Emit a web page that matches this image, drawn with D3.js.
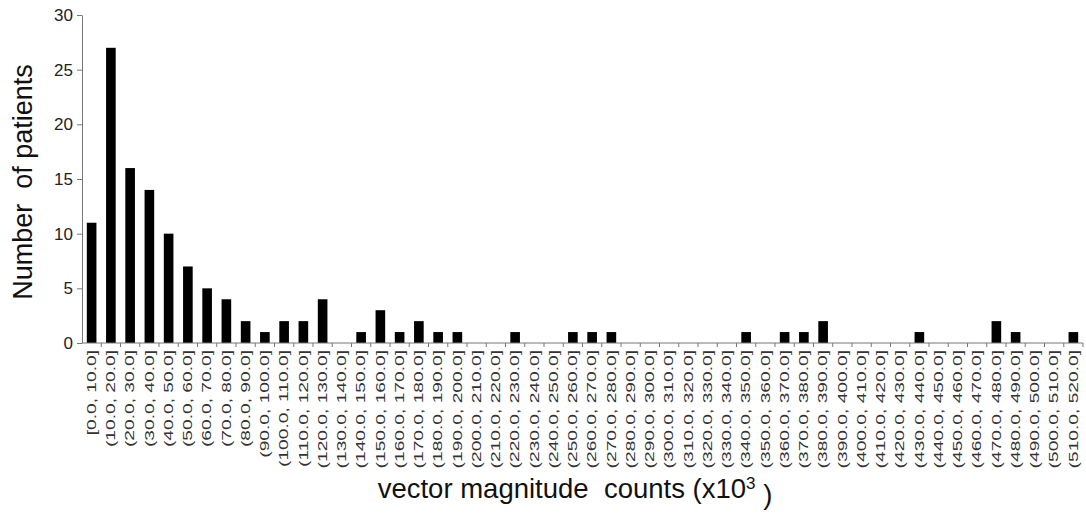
<!DOCTYPE html>
<html>
<head>
<meta charset="utf-8">
<script src="https://cdn.jsdelivr.net/npm/d3@7"></script>
<style>
  body { margin: 0; background: #fff; }
  text { font-family: "Liberation Sans", Arial, sans-serif; }
</style>
</head>
<body>
<div id="chart"></div>
<script>
const width = 1086, height = 514;

// bins of vector magnitude counts (x10^3)
const bins = [
  "[0.0, 10.0]", "(10.0, 20.0]", "(20.0, 30.0]", "(30.0, 40.0]", "(40.0, 50.0]",
  "(50.0, 60.0]", "(60.0, 70.0]", "(70.0, 80.0]", "(80.0, 90.0]", "(90.0, 100.0]",
  "(100.0, 110.0]", "(110.0, 120.0]", "(120.0, 130.0]", "(130.0, 140.0]", "(140.0, 150.0]",
  "(150.0, 160.0]", "(160.0, 170.0]", "(170.0, 180.0]", "(180.0, 190.0]", "(190.0, 200.0]",
  "(200.0, 210.0]", "(210.0, 220.0]", "(220.0, 230.0]", "(230.0, 240.0]", "(240.0, 250.0]",
  "(250.0, 260.0]", "(260.0, 270.0]", "(270.0, 280.0]", "(280.0, 290.0]", "(290.0, 300.0]",
  "(300.0, 310.0]", "(310.0, 320.0]", "(320.0, 330.0]", "(330.0, 340.0]", "(340.0, 350.0]",
  "(350.0, 360.0]", "(360.0, 370.0]", "(370.0, 380.0]", "(380.0, 390.0]", "(390.0, 400.0]",
  "(400.0, 410.0]", "(410.0, 420.0]", "(420.0, 430.0]", "(430.0, 440.0]", "(440.0, 450.0]",
  "(450.0, 460.0]", "(460.0, 470.0]", "(470.0, 480.0]", "(480.0, 490.0]", "(490.0, 500.0]",
  "(500.0, 510.0]", "(510.0, 520.0]"
];

// number of patients per bin
const patients = [
  11, 27, 16, 14, 10, 7, 5, 4, 2, 1,
  2, 2, 4, 0, 1, 3, 1, 2, 1, 1,
  0, 0, 1, 0, 0, 1, 1, 1, 0, 0,
  0, 0, 0, 0, 1, 0, 1, 1, 2, 0,
  0, 0, 0, 1, 0, 0, 0, 2, 1, 0,
  0, 1
];

const yTicks = [0, 5, 10, 15, 20, 25, 30];

const margin = { left: 82, right: 3, top: 15, bottom: 171 };

var svg = d3.select("#chart")
  .append("svg")
  .attr("width", width)
  .attr("height", height);

const x = d3.scaleBand()
  .domain(bins)
  .range([margin.left, width - margin.right])
  .paddingInner(0.5)
  .paddingOuter(0.25);

const y = d3.scaleLinear()
  .domain([0, 30])
  .range([height - margin.bottom, margin.top]);

// bars
svg.append("g")
  .selectAll("rect")
  .data(patients)
  .enter().append("rect")
  .attr("x", (d, i) => x(bins[i]))
  .attr("y", d => y(d))
  .attr("width", x.bandwidth())
  .attr("height", d => y(0) - y(d))
  .attr("fill", "#000");

// y axis
const yAxis = svg.append("g")
  .attr("transform", `translate(${margin.left},0)`)
  .call(d3.axisLeft(y).tickValues(yTicks).tickSize(5).tickSizeOuter(0));
yAxis.select(".domain").attr("stroke", "#777");
yAxis.selectAll(".tick line").attr("stroke", "#777");
yAxis.selectAll(".tick text")
  .attr("x", -9)
  .attr("fill", "#222")
  .style("font-size", "17px");

// x axis line + ticks at bin boundaries
const x0 = x.range()[0], x1 = x.range()[1];
const step = x.step();
svg.append("line")
  .attr("x1", x0).attr("x2", x1)
  .attr("y1", y(0)).attr("y2", y(0))
  .attr("stroke", "#777");
svg.append("g")
  .selectAll("line")
  .data(bins)
  .enter().append("line")
  .attr("x1", (d, i) => x(d) + x.bandwidth() / 2 + step / 2)
  .attr("x2", (d, i) => x(d) + x.bandwidth() / 2 + step / 2)
  .attr("y1", y(0))
  .attr("y2", y(0) + 4)
  .attr("stroke", "#777");

// x tick labels (rotated, stretched like the original)
svg.append("g")
  .selectAll("text")
  .data(bins)
  .enter().append("text")
  .attr("transform", d => `translate(${x(d) + x.bandwidth() / 2},${y(0) + 7}) rotate(-90) scale(1.6,1)`)
  .attr("text-anchor", "end")
  .attr("dy", "0.35em")
  .attr("fill", "#333")
  .style("font-size", "12px")
  .text(d => d);

// y title
svg.append("text")
  .attr("transform", `translate(32,${(y(0) + y(30)) / 2 + 3}) rotate(-90)`)
  .attr("text-anchor", "middle")
  .attr("fill", "#111")
  .style("font-size", "27px")
  .style("white-space", "pre")
  .attr("xml:space", "preserve")
  .text("Number  of patients");

// x title
const xt = svg.append("text")
  .attr("x", 575)
  .attr("y", 498)
  .attr("text-anchor", "middle")
  .attr("fill", "#111")
  .style("font-size", "27.5px")
  .style("white-space", "pre")
  .attr("xml:space", "preserve");
xt.append("tspan").text("vector magnitude  counts (x10");
xt.append("tspan").attr("dy", "-0.55em").style("font-size", "17px").text("3");
xt.append("tspan").attr("dy", "0.55em").text(" )");
</script>
</body>
</html>
